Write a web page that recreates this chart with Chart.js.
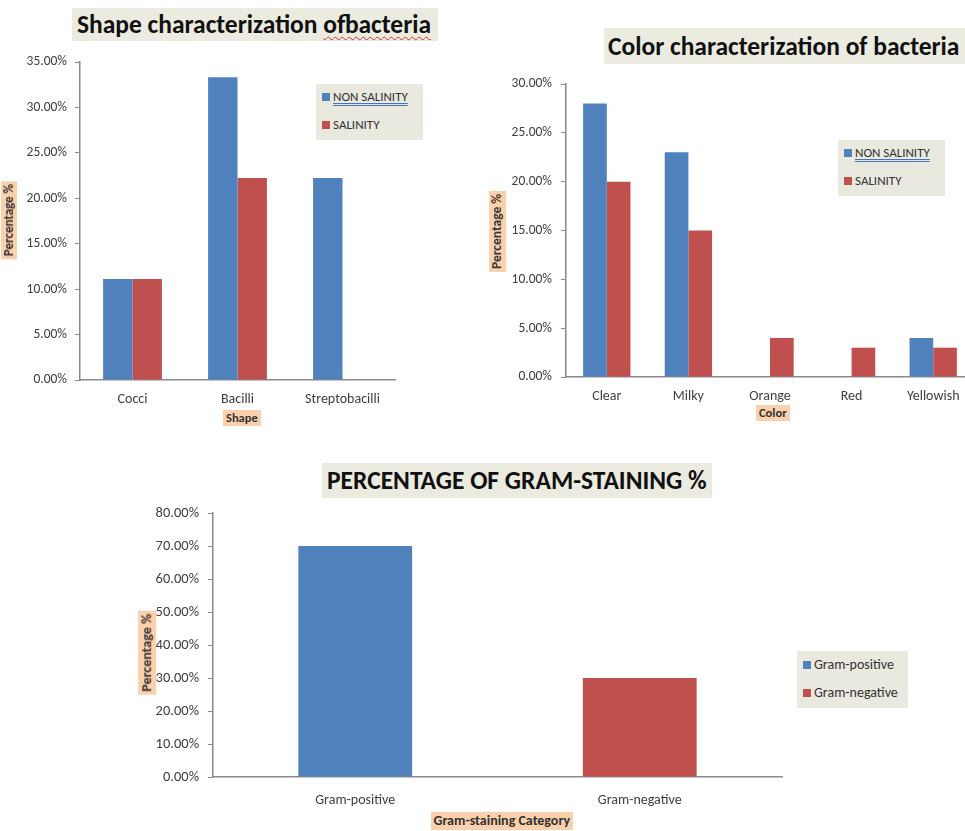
<!DOCTYPE html>
<html>
<head>
<meta charset="utf-8">
<script src="https://cdn.jsdelivr.net/npm/chart.js@4.4.1/dist/chart.umd.min.js"></script>
<style>
  html, body { margin: 0; padding: 0; background: #fff; }
  body { width: 965px; height: 831px; position: relative; overflow: hidden; font-family: Carlito, Lato, "Open Sans", sans-serif; }
  .box { position: absolute; }
  .title { position: absolute; background: #ebebe0; font-weight: bold; color: #111; white-space: nowrap; box-sizing: border-box; line-height: 1; }
  .axt { position: absolute; background: #fbd0ac; font-weight: bold; color: #333; white-space: nowrap; line-height: 1.25; padding: 0 3px; }
  .legend { position: absolute; background: #e9e9df; box-sizing: border-box; color: #333; }
  .legend .item { position: absolute; white-space: nowrap; }
  .legend .sw { display: inline-block; width: 8px; height: 8px; margin-right: 3px; vertical-align: 0; }
  .wavy { text-decoration: underline wavy #d03030; text-decoration-thickness: 1px; text-underline-offset: 3px; }
  .dbl { text-decoration: underline double #4472c4; text-underline-offset: 2px; }
</style>
</head>
<body>

<div class="box" style="left:0;top:0;width:480px;height:430px"><canvas id="shapeChart"></canvas></div>
<div class="box" style="left:480px;top:0;width:500px;height:430px"><canvas id="colorChart"></canvas></div>
<div class="box" style="left:0;top:440px;width:965px;height:391px"><canvas id="gramChart"></canvas></div>

<div class="title" style="left:72px;top:8px;width:366px;height:33px;font-size:25.5px;padding:4px 0 0 5px">Shape characterization <span class="wavy">ofbacteria</span></div>
<div class="title" style="left:604px;top:28px;width:365px;height:36px;font-size:25.5px;padding:6px 0 0 4px">Color characterization of bacteria</div>
<div class="title" style="left:322px;top:463px;width:390px;height:35px;font-size:25.5px;padding:5px 0 0 5px">PERCENTAGE OF GRAM-STAINING %</div>

<div class="axt" data-cx="9" data-cy="220" data-rot="1" style="font-size:13px">Percentage %</div>
<div class="axt" data-cx="242" data-cy="418" style="font-size:12.5px">Shape</div>
<div class="axt" data-cx="497" data-cy="231" data-rot="1" style="font-size:13.5px">Percentage %</div>
<div class="axt" data-cx="773" data-cy="413" style="font-size:12.5px">Color</div>
<div class="axt" data-cx="147" data-cy="653" data-rot="1" style="font-size:14px">Percentage %</div>
<div class="axt" data-cx="502" data-cy="821" style="font-size:14px">Gram-staining Category</div>

<div class="legend" id="shapeLegend" style="left:316px;top:84px;width:107px;height:56px;font-size:13px"></div>
<div class="legend" id="colorLegend" style="left:838px;top:140px;width:107px;height:56px;font-size:13px"></div>
<div class="legend" id="gramLegend" style="left:797px;top:651px;width:111px;height:57px;font-size:14px"></div>

<script>
// data (values in %)
const shapeLabels = ['Cocci', 'Bacilli', 'Streptobacilli'];
const shapeNonSalinity = [11.11, 33.33, 22.22];
const shapeSalinity = [11.11, 22.22, 0];
const shapeTicks = [0, 5, 10, 15, 20, 25, 30, 35];

const colorLabels = ['Clear', 'Milky', 'Orange', 'Red', 'Yellowish'];
const colorNonSalinity = [28, 23, 0, 0, 4];
const colorSalinity = [20, 15, 4, 3, 3];
const colorTicks = [0, 5, 10, 15, 20, 25, 30];

const gramLabels = ['Gram-positive', 'Gram-negative'];
const gramValues = [70, 30];
const gramTicks = [0, 10, 20, 30, 40, 50, 60, 70, 80];

const seriesNames = ['NON SALINITY', 'SALINITY'];
const blue = '#4f81bd';
const red = '#c0504d';
const axisColor = '#8a8a8a';
const tickColor = '#404040';
const fontFamily = 'Carlito, Lato, "Open Sans", sans-serif';

Chart.defaults.font.family = fontFamily;
Chart.defaults.animation = false;

// build a bar chart with a fixed plot area so it lines up with the picture
function makeBarChart(id, labels, datasets, ticks, box) {
  return new Chart(document.getElementById(id), {
    type: 'bar',
    data: { labels: labels, datasets: datasets },
    options: {
      responsive: true,
      maintainAspectRatio: false,
      layout: { padding: { top: box.top, right: box.right, left: 0, bottom: 0 } },
      plugins: { legend: { display: false }, tooltip: { enabled: false } },
      datasets: { bar: { categoryPercentage: box.cat, barPercentage: 1 } },
      scales: {
        x: {
          grid: { display: false },
          border: { display: true, color: axisColor, width: 1.5 },
          ticks: { color: tickColor, font: { size: box.xFont }, padding: box.xPad },
          afterFit: s => { s.height = box.xHeight; }
        },
        y: {
          min: 0,
          max: ticks[ticks.length - 1],
          afterBuildTicks: s => { s.ticks = ticks.map(v => ({ value: v })); },
          grid: { drawOnChartArea: false, drawTicks: true, tickLength: box.tickLen, color: axisColor },
          border: { display: true, color: axisColor, width: 1.5 },
          ticks: {
            color: tickColor,
            font: { size: box.yFont },
            padding: box.yPad,
            callback: v => v.toFixed(2) + '%'
          },
          afterFit: s => { s.width = box.yWidth; }
        }
      }
    }
  });
}

makeBarChart('shapeChart', shapeLabels, [
  { label: seriesNames[0], data: shapeNonSalinity, backgroundColor: blue },
  { label: seriesNames[1], data: shapeSalinity, backgroundColor: red }
], shapeTicks, { top: 62, right: 85, yWidth: 80, xHeight: 50, cat: 0.56, tickLen: 5, yPad: 8, xPad: 3, xFont: 14, yFont: 13.5 });

makeBarChart('colorChart', colorLabels, [
  { label: seriesNames[0], data: colorNonSalinity, backgroundColor: blue },
  { label: seriesNames[1], data: colorSalinity, backgroundColor: red }
], colorTicks, { top: 84, right: 6, yWidth: 86, xHeight: 53, cat: 0.58, tickLen: 5, yPad: 9, xPad: 3, xFont: 14, yFont: 13.5 });

makeBarChart('gramChart', gramLabels, [
  { label: 'Gram-staining', data: gramValues, backgroundColor: [blue, red] }
], gramTicks, { top: 73, right: 183, yWidth: 213, xHeight: 54, cat: 0.4, tickLen: 5, yPad: 9, xPad: 7, xFont: 14, yFont: 14.5 });

// place the axis titles by their centre
document.querySelectorAll('.axt').forEach(el => {
  const w = el.offsetWidth, h = el.offsetHeight;
  el.style.left = (el.dataset.cx - w / 2) + 'px';
  el.style.top = (el.dataset.cy - h / 2) + 'px';
  if (el.dataset.rot) el.style.transform = 'rotate(-90deg)';
});

// html legends with the grey box of the original
function fillLegend(id, names, colors, rowTops, extraClass) {
  const el = document.getElementById(id);
  names.forEach((name, i) => {
    const item = document.createElement('div');
    item.className = 'item';
    item.style.left = '6px';
    item.style.top = rowTops[i] + 'px';
    const cls = (extraClass && i === 0) ? ' class="' + extraClass + '"' : '';
    item.innerHTML = '<span class="sw" style="background:' + colors[i] + '"></span><span' + cls + '>' + name + '</span>';
    el.appendChild(item);
  });
}

fillLegend('shapeLegend', seriesNames, [blue, red], [5, 33], 'dbl');
fillLegend('colorLegend', seriesNames, [blue, red], [5, 33], 'dbl');
fillLegend('gramLegend', gramLabels, [blue, red], [5, 33]);
</script>
</body>
</html>
